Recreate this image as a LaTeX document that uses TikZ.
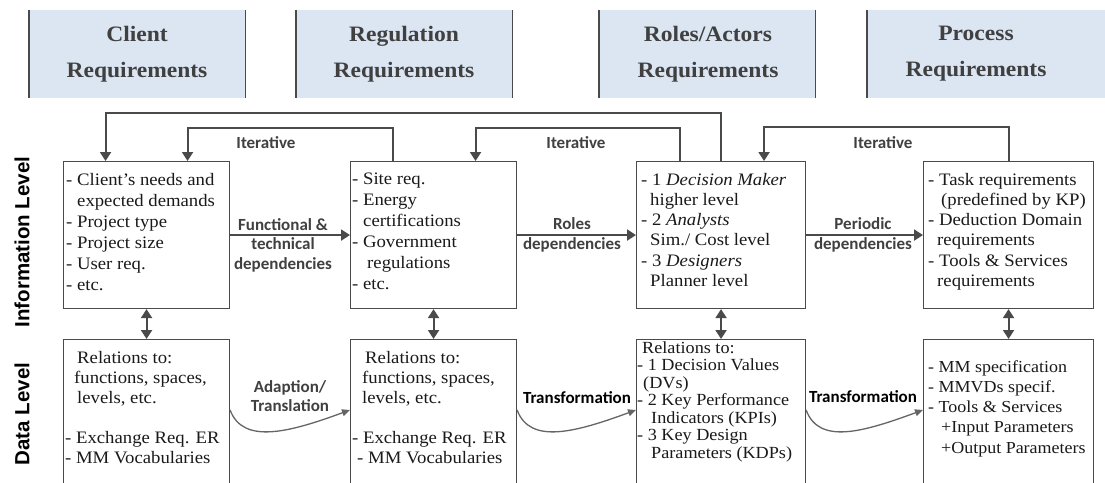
\documentclass[tikz,border=0pt]{standalone}
\usepackage{fontspec}
\setmainfont{Liberation Serif}[FakeStretch=1.07]
\newfontfamily\lblfont{Carlito}
\newfontfamily\sidefont{Liberation Sans}
\usetikzlibrary{arrows.meta,calc}
\definecolor{hdrfill}{HTML}{DCE6F2}
\definecolor{ln}{HTML}{4A4A4A}
\definecolor{hdrtext}{HTML}{404040}
\definecolor{bodytext}{HTML}{1A1A1A}
\begin{document}
\begin{tikzpicture}[x=1pt,y=-1pt,
  hdr/.style={fill=hdrfill, minimum width=216pt, minimum height=88pt, anchor=north west, inner sep=0pt},
  hdrline/.style={draw=ln, line width=1.6pt},
  hdrtxt/.style={font=\fontsize{22}{36}\selectfont\bfseries, text=hdrtext, align=center, inner sep=0pt},
  box/.style={draw=ln, line width=1.1pt, anchor=north west, minimum height=147pt, inner sep=0pt},
  dbox/.style={draw=ln, line width=1.1pt, anchor=north west, minimum height=170pt, inner sep=0pt},
  body/.style={anchor=north west, align=left, inner sep=0pt, text=bodytext},
  lbl/.style={font=\lblfont\bfseries\fontsize{17}{19.5}\selectfont, text=hdrtext, align=center, inner sep=0pt},
  arr/.style={draw=ln, line width=2pt, -{Triangle[length=9pt,width=11pt]}},
  darr/.style={draw=ln, line width=2pt, {Triangle[length=9pt,width=11pt]}-{Triangle[length=9pt,width=11pt]}},
  carr/.style={draw=ln!85, line width=1.3pt, -{Triangle[length=8pt,width=7pt]}},
  side/.style={font=\sidefont\bfseries\fontsize{20.5}{22}\selectfont, rotate=90, inner sep=0pt}
]
\useasboundingbox (0,0) rectangle (1105,482);
\fill[white] (0,0) rectangle (1105,482);
\clip (0,0) rectangle (1105,482);

% headers
\node[hdr] (h1) at (29,10) {};
\node[hdr] (h2) at (296,10) {};
\node[hdr] (h3) at (599,10) {};
\node[hdr, minimum width=240pt] (h4) at (867,10) {};
\draw[hdrline] (h1.north west) -- (h1.south west) (h1.north east) -- (h1.south east);
\draw[hdrline] (h2.north west) -- (h2.south west) (h2.north east) -- (h2.south east);
\draw[hdrline] (h3.north west) -- (h3.south west) (h3.north east) -- (h3.south east);
\draw[hdrline] (h4.north west) -- (h4.south west);
\node[hdrtxt] (h1t) at (137,54) {Client\\Requirements};
\node[hdrtxt] (h2t) at (404,54) {Regulation\\Requirements};
\node[hdrtxt] (h3t) at (708,54) {Roles/Actors\\Requirements};
\node[hdrtxt] (h4t) at (976,54) {Process\\Requirements};

% side labels
\node[side] (sInfo) at (22,242) {Information Level};
\node[side] (sData) at (22,414) {Data Level};

% information boxes
\node[box, minimum width=166pt] (i1) at (63,161) {};
\node[box, minimum width=166pt] (i2) at (350,161) {};
\node[box, minimum width=169pt] (i3) at (636,161) {};
\node[box, minimum width=170pt] (i4) at (923,161) {};

\node[body, font=\fontsize{17.5}{21}\selectfont] (i1t) at (66,173) {%
- Client’s needs and\\
\hspace*{11pt}expected demands\\
- Project type\\
- Project size\\
- User req.\\
- etc.};
\node[body, font=\fontsize{17.5}{21}\selectfont] (i2t) at (352,173) {%
- Site req.\\
- Energy\\
\hspace*{11pt}certifications\\
- Government\\
\hspace*{15pt}regulations\\
- etc.};
\node[body, font=\fontsize{17.5}{20.2}\selectfont] (i3t) at (641,173) {%
- 1 \textit{Decision Maker}\\
\hspace*{9pt}higher level\\
- 2 \textit{Analysts}\\
\hspace*{9pt}Sim./ Cost level\\
- 3 \textit{Designers}\\
\hspace*{9pt}Planner level};
\node[body, font=\fontsize{17.5}{20.2}\selectfont] (i4t) at (928,173) {%
- Task requirements\\
\hspace*{13pt}(predefined by KP)\\
- Deduction Domain\\
\hspace*{9pt}requirements\\
- Tools \& Services\\
\hspace*{9pt}requirements};

% data boxes
\node[dbox, minimum width=166pt] (d1) at (63,339) {};
\node[dbox, minimum width=166pt] (d2) at (350,339) {};
\node[dbox, minimum width=169pt] (d3) at (636,339) {};
\node[dbox, minimum width=170pt] (d4) at (923,339) {};

\node[body, font=\fontsize{17.5}{20}\selectfont] (d1t) at (65,351) {%
\hspace*{12pt}Relations to:\\
\hspace*{9pt}functions, spaces,\\
\hspace*{12pt}levels, etc.\\
\mbox{}\\
- Exchange Req. ER\\
- MM Vocabularies};
\node[body, font=\fontsize{17.5}{20}\selectfont] (d2t) at (352,351) {%
\hspace*{13pt}Relations to:\\
\hspace*{10pt}functions, spaces,\\
\hspace*{10pt}levels, etc.\\
\mbox{}\\
- Exchange Req. ER\\
\hspace*{5pt}- MM Vocabularies};
\node[body, font=\fontsize{17}{17.5}\selectfont] (d3t) at (637,341) {%
\hspace*{5pt}Relations to:\\
- 1 Decision Values\\
\hspace*{6pt}(DVs)\\
- 2 Key Performance\\
\hspace*{14pt}Indicators (KPIs)\\
- 3 Key Design\\
\hspace*{14pt}Parameters (KDPs)};
\node[body, font=\fontsize{16.8}{20.3}\selectfont] (d4t) at (928,360) {%
- MM specification\\
- MMVDs specif.\\
- Tools \& Services\\
\hspace*{13pt}+Input Parameters\\
\hspace*{13pt}+Output Parameters};

% iterative loops
\draw[arr] (i3.north) -- ++(0,-48) -| ([xshift=-41pt]i1.north);
\draw[arr] ([xshift=-41pt]i2.north) -- ++(0,-33) -| ([xshift=41pt]i1.north);
\draw[arr] ([xshift=-41pt]i3.north) -- ++(0,-33) -| ([xshift=42pt]i2.north);
\draw[arr] (i4.north) -- ++(0,-34) -| ([xshift=43pt]i3.north);
\node[lbl] (it1) at (266,143) {Iterative};
\node[lbl] (it2) at (576,143) {Iterative};
\node[lbl] (it3) at (883,143) {Iterative};

% horizontal dependencies
\draw[arr] (i1.east) -- (i2.west);
\draw[arr] (i2.east) -- (i3.west);
\draw[arr] (i3.east) -- (i4.west);
\node[lbl] (l1) at (283,245) {Functional \&\\technical\\dependencies};
\node[lbl] (l2) at (572,235) {Roles\\dependencies};
\node[lbl] (l3) at (863,235) {Periodic\\dependencies};

% vertical double arrows
\draw[darr] (i1.south) -- (d1.north);
\draw[darr] (i2.south) -- (d2.north);
\draw[darr] (i3.south) -- (d3.north);
\draw[darr] (i4.south) -- (d4.north);

% data level curves
\coordinate (c1a) at ($(d1.north east)+(0,71)$);
\coordinate (c1b) at ($(d2.north west)+(0,71)$);
\coordinate (c2a) at ($(d2.north east)+(0,71)$);
\coordinate (c2b) at ($(d3.north west)+(0,71)$);
\coordinate (c3a) at ($(d3.north east)+(0,71)$);
\coordinate (c3b) at ($(d4.north west)+(0,71)$);
\draw[carr] (c1a) .. controls +(13,35) and +(-60,22) .. (c1b);
\draw[carr] (c2a) .. controls +(13,35) and +(-60,22) .. (c2b);
\draw[carr] (c3a) .. controls +(13,35) and +(-60,22) .. (c3b);
\node[lbl] (t1) at (290,396) {Adaption/\\Translation};
\node[lbl, text=black] (t2) at (577,398) {Transformation};
\node[lbl, text=black] (t3) at (863,397) {Transformation};
\end{tikzpicture}
\end{document}
